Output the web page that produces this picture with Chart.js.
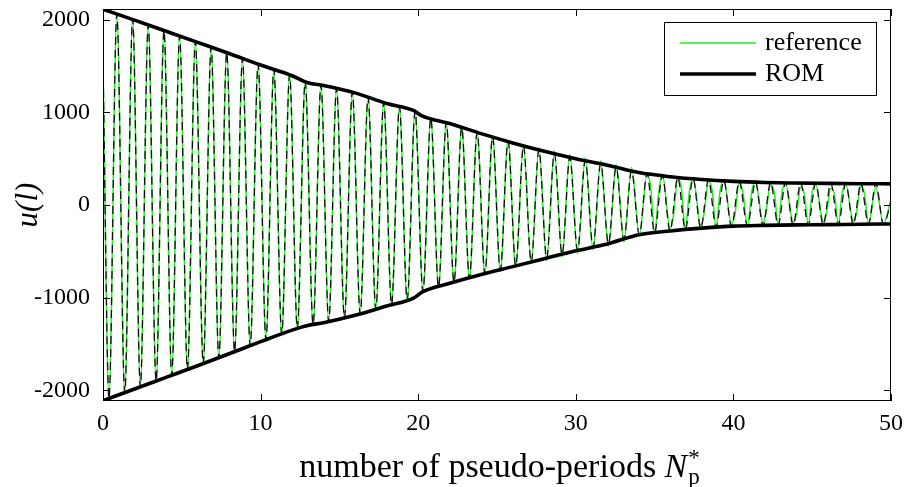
<!DOCTYPE html>
<html>
<head>
<meta charset="utf-8">
<script src="https://cdn.jsdelivr.net/npm/chart.js@4.4.1/dist/chart.umd.min.js"></script>
<style>
html,body{margin:0;padding:0;background:#fff;}
#wrap{width:904px;height:487px;position:relative;}
</style>
</head>
<body>
<div id="wrap"><canvas id="c"></canvas></div>
<script>
// ---- data ----
const xTicks = [0, 10, 20, 30, 40, 50];
const yTicks = [-2000, -1000, 0, 1000, 2000];

const envUpperX = [0,2,4,6,8,10,12,13,14,16,18,19.7,20.2,22,24,26,28,30,32,34,36,38,40,42,44,46,48,50];
const envUpperY = [2112,1995,1875,1755,1635,1510,1395,1320,1290,1210,1095,1020,965,880,770,670,580,500,430,350,305,275,255,243,237,233,230,228];
const envLowerX = [0,2,4,6,8,10,12,13,14,16,18,19.7,20.3,22,24,26,28,30,32,34,36,38,40,42,44,46,48,50];
const envLowerY = [-2112,-1985,-1860,-1735,-1605,-1475,-1350,-1300,-1270,-1190,-1090,-1005,-935,-845,-750,-665,-580,-495,-420,-320,-280,-250,-228,-220,-215,-212,-208,-205];

const peakX = [0.88,1.88,2.87,3.87,4.86,5.86,6.86,7.85,8.85,9.84,10.84,11.84,12.83,13.83,14.82,15.82,16.82,17.81,18.81,19.80,20.80,21.78,22.76,23.74,24.72,25.70,26.68,27.66,28.64,29.62,30.60,31.58,32.56,33.54,34.52,35.49,36.47,37.44,38.42,39.39,40.37,41.40,42.36,43.31,44.27,45.22,46.18,47.13,48.09,49.04];
const troughX = [0.38,1.38,2.37,3.37,4.36,5.36,6.36,7.35,8.35,9.34,10.34,11.34,12.33,13.33,14.32,15.32,16.32,17.31,18.31,19.30,20.30,21.29,22.27,23.25,24.23,25.21,26.19,27.17,28.15,29.13,30.11,31.09,32.07,33.05,34.03,35.00,35.98,36.95,37.93,38.90,39.88,40.89,41.88,42.84,43.79,44.75,45.70,46.66,47.61,48.57,49.52];

const romStart = [0, 1530];
const romEnd = [50, 30];
const romPeakY = [2060,2002,1943,1883,1823,1763,1703,1645,1582,1520,1462,1404,1333,1295,1257,1217,1163,1106,1059,1009,937,891,838,784,734,685,639,595,554,515,479,445,408,368,338,316,298,283,271,261,253,247,242,239,236,234,233,231,230,229];
const romTroughY = [-2088,-2024,-1962,-1900,-1838,-1775,-1712,-1647,-1582,-1518,-1454,-1392,-1334,-1290,-1257,-1217,-1174,-1124,-1074,-1025,-935,-883,-832,-786,-740,-699,-657,-615,-574,-532,-491,-454,-417,-367,-319,-300,-280,-265,-251,-240,-229,-224,-220,-218,-215,-214,-212,-211,-209,-207,-206];

const refStart = [0, 1500];
const refEnd = [50, 60];
const refPeakY = [2050,2010,1935,1890,1815,1770,1695,1650,1575,1525,1455,1410,1325,1300,1250,1222,1155,1110,1052,1012,930,893,842,790,742,698,655,618,585,548,512,478,440,405,330,335,290,300,255,270,240,250,215,230,195,225,180,220,205,185];
const refTroughY = [-2075,-2030,-1950,-1905,-1830,-1782,-1705,-1655,-1575,-1525,-1448,-1398,-1330,-1295,-1250,-1222,-1168,-1130,-1068,-1030,-930,-888,-830,-795,-745,-712,-668,-635,-600,-565,-525,-485,-445,-400,-330,-300,-255,-270,-225,-245,-205,-225,-190,-215,-185,-210,-180,-205,-175,-200,-205];
const refWiggleX = [34.75,35.27,36.20,36.70,37.20,38.13,38.66,39.15,40.10,40.60,41.17,42.05,42.60,43.08,44.00,44.50,45.00,45.90,46.42,46.90,47.80,48.32];
const refWiggleY = [200,150,-110,180,140,-100,150,150,-100,140,150,-95,130,140,-100,120,140,-95,110,130,-90,120];

// ---- build point tables ----
function pts(xs, ys){ return xs.map((x,i)=>({x:x, y:ys[i]})); }
function osc(start, end, pX, pY, tX, tY, wX, wY){
  let a = [{x:start[0], y:start[1]}].concat(pts(pX,pY), pts(tX,tY));
  if (wX) a = a.concat(pts(wX,wY));
  a.push({x:end[0], y:end[1]});
  a.sort((p,q)=>p.x-q.x);
  return a;
}

const FONT = '"Liberation Serif", "Times New Roman", serif';

const decor = {
  id: 'decor',
  afterDraw(chart){
    const {ctx, chartArea:a, scales} = chart;
    const xs = scales.x, ys = scales.y;
    ctx.save();
    // frame
    ctx.strokeStyle = '#000'; ctx.lineWidth = 1;
    ctx.strokeRect(Math.round(a.left)+0.5, Math.round(a.top)+0.5, Math.round(a.right-a.left)-1, Math.round(a.bottom-a.top)-1);
    // inner ticks
    ctx.beginPath();
    xTicks.forEach(v=>{
      const px = Math.round(xs.getPixelForValue(v))+0.5;
      ctx.moveTo(px, a.bottom); ctx.lineTo(px, a.bottom-7);
      ctx.moveTo(px, a.top); ctx.lineTo(px, a.top+7);
    });
    yTicks.forEach(v=>{
      const py = Math.round(ys.getPixelForValue(v))+0.5;
      ctx.moveTo(a.left, py); ctx.lineTo(a.left+7, py);
      ctx.moveTo(a.right, py); ctx.lineTo(a.right-7, py);
    });
    ctx.stroke();

    // x title
    ctx.fillStyle = '#000';
    ctx.textBaseline = 'alphabetic';
    const main = 'number of pseudo-periods ';
    ctx.font = '34px ' + FONT;
    const w1 = ctx.measureText(main).width;
    ctx.font = 'italic 34px ' + FONT;
    const w2 = ctx.measureText('N').width;
    ctx.font = '23px ' + FONT;
    const w3 = Math.max(ctx.measureText('p').width, ctx.measureText('*').width);
    const total = w1 + w2 + w3 + 2;
    let x0 = (a.left + a.right)/2 - total/2 + 3;
    const by = 477;
    ctx.textAlign = 'left';
    ctx.font = '34px ' + FONT; ctx.fillText(main, x0, by);
    ctx.font = 'italic 34px ' + FONT; ctx.fillText('N', x0 + w1, by);
    ctx.font = '23px ' + FONT;
    ctx.fillText('p', x0 + w1 + w2 + 1, by + 7);
    ctx.fillText('*', x0 + w1 + w2 + 1, by - 12);

    // y title
    ctx.save();
    ctx.translate(37, (a.top + a.bottom)/2);
    ctx.rotate(-Math.PI/2);
    ctx.textAlign = 'center';
    ctx.font = 'italic 31px ' + FONT;
    ctx.fillText('u(l)', 0, 0);
    ctx.restore();

    // legend
    const L = 664.5, T = 22.5, W = 212, H = 73;
    ctx.fillStyle = '#fff';
    ctx.fillRect(L, T, W, H);
    ctx.strokeStyle = '#000'; ctx.lineWidth = 1;
    ctx.strokeRect(L, T, W, H);
    ctx.beginPath();
    ctx.strokeStyle = '#22ee22'; ctx.lineWidth = 1.5;
    ctx.moveTo(680, 43); ctx.lineTo(756, 43); ctx.stroke();
    ctx.beginPath();
    ctx.strokeStyle = '#000'; ctx.lineWidth = 3.5;
    ctx.moveTo(680, 74); ctx.lineTo(756, 74); ctx.stroke();
    ctx.fillStyle = '#000';
    ctx.font = '26px ' + FONT;
    ctx.textAlign = 'left'; ctx.textBaseline = 'middle';
    ctx.fillText('reference', 765, 43);
    ctx.fillText('ROM', 765, 74);
    ctx.restore();
  }
};

new Chart(document.getElementById('c'), {
  type: 'line',
  data: {
    datasets: [
      { label: 'ROM', data: pts(envUpperX, envUpperY), borderColor: '#000', borderWidth: 3.6, pointRadius: 0, cubicInterpolationMode: 'monotone', fill: false },
      { label: 'ROM lower', data: pts(envLowerX, envLowerY), borderColor: '#000', borderWidth: 3.6, pointRadius: 0, cubicInterpolationMode: 'monotone', fill: false },
      { label: 'ROM oscillation', data: osc(romStart, romEnd, peakX, romPeakY, troughX, romTroughY), borderColor: '#111', borderWidth: 1.3, borderDash: [8,5], pointRadius: 0, cubicInterpolationMode: 'monotone', fill: false },
      { label: 'reference', data: osc(refStart, refEnd, peakX, refPeakY, troughX, refTroughY, refWiggleX, refWiggleY), borderColor: '#22ee22', borderWidth: 1.5, pointRadius: 0, cubicInterpolationMode: 'monotone', fill: false }
    ]
  },
  options: {
    responsive: true,
    maintainAspectRatio: false,
    animation: false,
    events: [],
    layout: { padding: { left: 0, right: 13, top: 9, bottom: 0 } },
    plugins: { legend: { display: false }, tooltip: { enabled: false } },
    scales: {
      x: {
        type: 'linear', min: 0, max: 50,
        afterBuildTicks: s => { s.ticks = xTicks.map(v=>({value:v})); },
        afterFit: s => { s.height = 86; s.paddingLeft = 0; s.paddingRight = 0; },
        grid: { display: false, drawTicks: false },
        border: { display: false },
        ticks: { color: '#000', font: { family: FONT, size: 24 }, padding: 8, maxRotation: 0, callback: v => String(v) }
      },
      y: {
        type: 'linear', min: -2115, max: 2115,
        afterBuildTicks: s => { s.ticks = yTicks.map(v=>({value:v})); },
        afterFit: s => { s.width = 103; s.paddingTop = 0; s.paddingBottom = 0; },
        grid: { display: false, drawTicks: false },
        border: { display: false },
        ticks: { color: '#000', font: { family: FONT, size: 24 }, padding: 13, callback: v => String(v) }
      }
    }
  },
  plugins: [decor]
});
</script>
</body>
</html>
